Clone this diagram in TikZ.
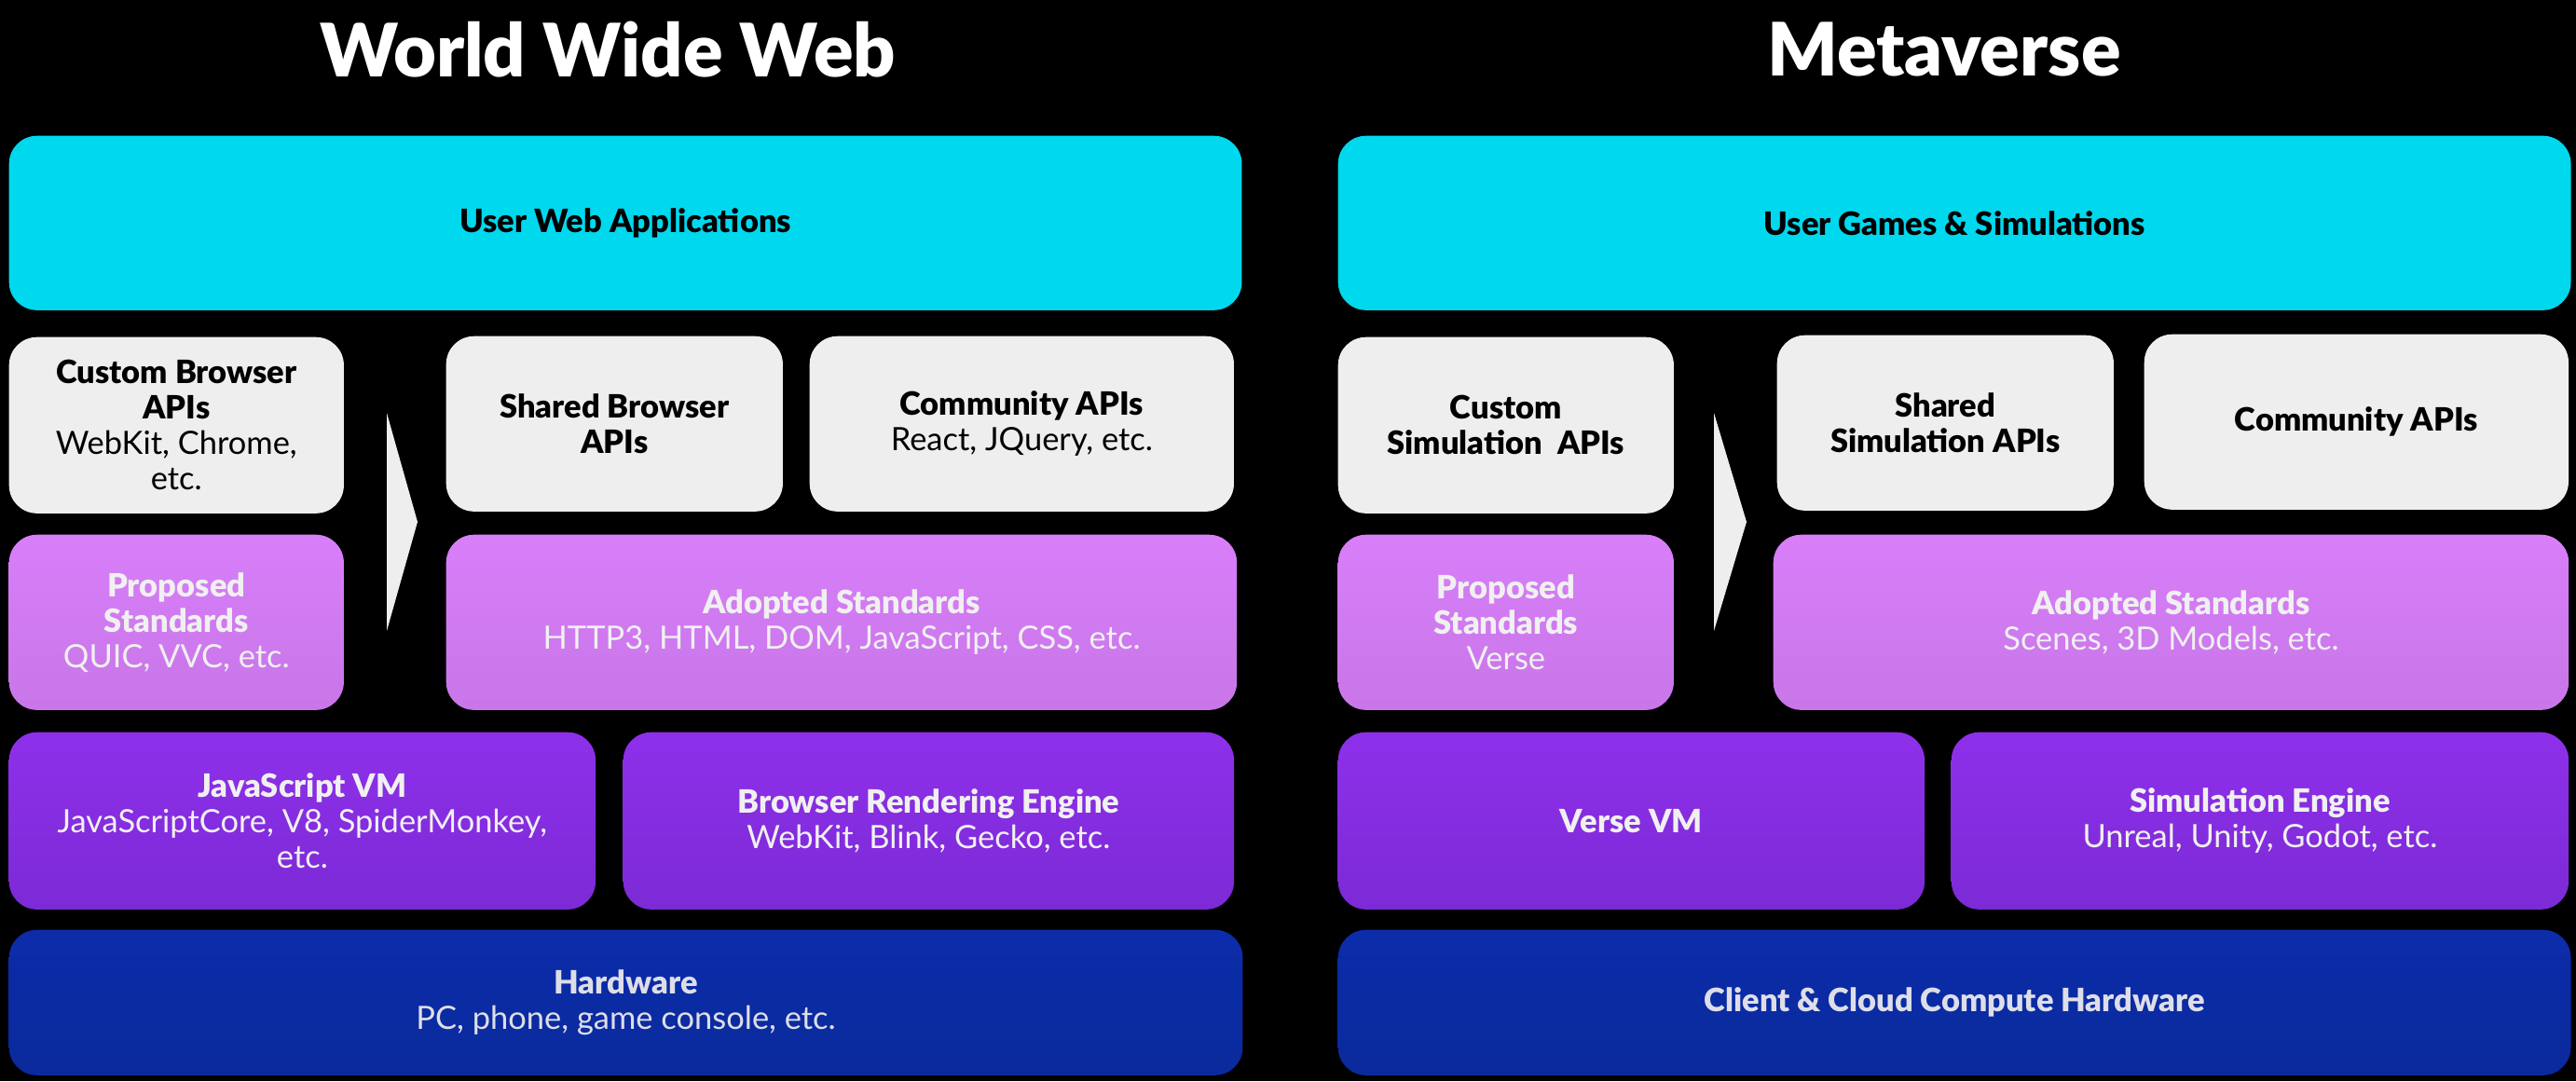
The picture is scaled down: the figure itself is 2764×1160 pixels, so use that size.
\documentclass[tikz,border=0pt]{standalone}
\usepackage{fontspec}
\setmainfont{Lato}[BoldFont={Lato Black}]
\usepackage{tikz}
\definecolor{appcyan}{RGB}{0,216,238}
\definecolor{apigray}{RGB}{238,238,238}
\definecolor{stdtop}{RGB}{216,126,249}
\definecolor{stdbot}{RGB}{200,118,232}
\definecolor{vmtop}{RGB}{142,48,234}
\definecolor{vmbot}{RGB}{124,42,214}
\definecolor{hwtop}{RGB}{12,44,170}
\definecolor{hwbot}{RGB}{10,42,156}
\definecolor{paletext}{RGB}{240,240,240}
\definecolor{hwtext}{RGB}{222,222,232}
\tikzstyle{layer}=[rounded corners=0.3cm, anchor=north west, align=center, inner sep=0pt, font=\fontsize{9.8}{10.8}\selectfont]
\tikzstyle{appbox}=[layer, fill=appcyan, text=black]
\tikzstyle{apibox}=[layer, fill=apigray, text=black]
\tikzstyle{stdbox}=[layer, top color=stdtop, bottom color=stdbot, text=paletext]
\tikzstyle{vmbox}=[layer, top color=vmtop, bottom color=vmbot, text=paletext]
\tikzstyle{hwbox}=[layer, top color=hwtop, bottom color=hwbot, text=hwtext]
\tikzstyle{heading}=[text=white, font=\fontsize{22.5}{26}\selectfont\bfseries]
\begin{document}
\begin{tikzpicture}[x=0.01cm, y=-0.01cm]
        \fill[black] (0,0) rectangle (2764,1160);
        \useasboundingbox (0,0) rectangle (2764,1160);
        % world wide web
        \node[heading] (wtitle) at (652,53) {World Wide Web};
        \node[appbox, minimum width=13.22cm, minimum height=1.87cm] (wapps) at (9,145) {\textbf{User Web Applications}};
        \node[apibox, minimum width=3.59cm, minimum height=1.89cm] (wcustom) at (9,361) {\textbf{Custom Browser}\\\textbf{APIs}\\WebKit, Chrome,\\etc.};
        \node[apibox, minimum width=3.61cm, minimum height=1.88cm] (wshared) at (478,360) {\textbf{Shared Browser}\\\textbf{APIs}};
        \node[apibox, minimum width=4.55cm, minimum height=1.88cm] (wcomm) at (868,360) {\textbf{Community APIs}\\React, JQuery, etc.};
        \node[stdbox, minimum width=3.59cm, minimum height=1.88cm] (wprop) at (9,573) {\textbf{Proposed}\\\textbf{Standards}\\QUIC, VVC, etc.};
        \node[stdbox, minimum width=8.48cm, minimum height=1.88cm] (wadopt) at (478,573) {\textbf{Adopted Standards}\\HTTP3, HTML, DOM, JavaScript, CSS, etc.};
        \node[vmbox, minimum width=6.29cm, minimum height=1.90cm] (wvm) at (9,785) {\textbf{JavaScript VM}\\JavaScriptCore, V8, SpiderMonkey,\\etc.};
        \node[vmbox, minimum width=6.55cm, minimum height=1.90cm] (wengine) at (668,785) {\textbf{Browser Rendering Engine}\\WebKit, Blink, Gecko, etc.};
        \node[hwbox, minimum width=13.23cm, minimum height=1.56cm] (whw) at (9,997) {\textbf{Hardware}\\PC, phone, game console, etc.};
        \coordinate (wtop) at (415,443);
        \coordinate (wtip) at (448,560);
        \coordinate (wbot) at (415,677);
        \fill[apigray] (wtop) -- (wtip) -- (wbot) -- cycle;
        % metaverse
        \node[heading] (mtitle) at (2086,53) {Metaverse};
        \node[appbox, minimum width=13.22cm, minimum height=1.87cm] (mapps) at (1435,145) {\textbf{User Games \& Simulations}};
        \node[apibox, minimum width=3.60cm, minimum height=1.89cm] (mcustom) at (1435,361) {\textbf{Custom}\\\textbf{Simulation\ \ APIs}};
        \node[apibox, minimum width=3.61cm, minimum height=1.88cm] (mshared) at (1906,359) {\textbf{Shared}\\\textbf{Simulation APIs}};
        \node[apibox, minimum width=4.55cm, minimum height=1.88cm] (mcomm) at (2300,358) {\textbf{Community APIs}};
        \node[stdbox, minimum width=3.60cm, minimum height=1.88cm] (mprop) at (1435,573) {\textbf{Proposed}\\\textbf{Standards}\\Verse};
        \node[stdbox, minimum width=8.53cm, minimum height=1.88cm] (madopt) at (1902,573) {\textbf{Adopted Standards}\\Scenes, 3D Models, etc.};
        \node[vmbox, minimum width=6.29cm, minimum height=1.90cm] (mvm) at (1435,785) {\textbf{Verse VM}};
        \node[vmbox, minimum width=6.62cm, minimum height=1.90cm] (mengine) at (2093,785) {\textbf{Simulation Engine}\\Unreal, Unity, Godot, etc.};
        \node[hwbox, minimum width=13.22cm, minimum height=1.56cm] (mhw) at (1435,997) {\textbf{Client \& Cloud Compute Hardware}};
        \coordinate (mtop) at (1839,443);
        \coordinate (mtip) at (1874,560);
        \coordinate (mbot) at (1839,677);
        \fill[apigray] (mtop) -- (mtip) -- (mbot) -- cycle;
    \end{tikzpicture}
\end{document}
